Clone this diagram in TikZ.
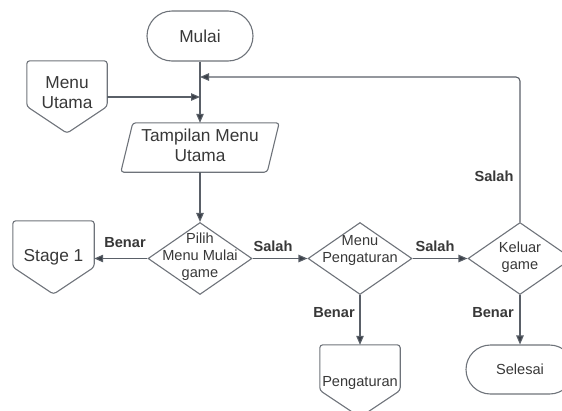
\documentclass[tikz,border=0pt]{standalone}
\usepackage{fontspec}
\setmainfont{Liberation Sans}
\usetikzlibrary{arrows.meta,shapes.geometric,shapes.misc,calc}
\definecolor{edge}{HTML}{6E737A}
\definecolor{wire}{HTML}{5A6068}
\definecolor{tipc}{HTML}{3A3F47}
\definecolor{ink}{HTML}{383838}
\newcommand\bigtxt{\fontsize{17.3}{20}\selectfont}
\newcommand\smalltxt{\fontsize{14.6}{17}\selectfont}
\newcommand\offoutline[1]{%
  \draw[shapeline,rounded corners=3pt] (#1.north west) -- (#1.north east)
    -- ($(#1.north east)!0.63!(#1.south east)$) -- (#1.south)
    -- ($(#1.north west)!0.63!(#1.south west)$) -- cycle;}
\tikzset{
  shapeline/.style={draw=edge,line width=1.1pt},
  terminal/.style={rounded rectangle,shapeline,minimum width=106pt,minimum height=50pt,
    inner sep=0pt,text=ink,font=\bigtxt},
  offbox/.style={minimum width=80pt,minimum height=72pt,inner sep=0pt},
  iobox/.style={minimum width=146pt,minimum height=49pt,inner sep=0pt},
  decision/.style={diamond,shapeline,minimum width=104pt,minimum height=72pt,inner sep=0pt},
  txt/.style={text=ink,align=center,inner sep=0pt},
  conn/.style={draw=wire,line width=1.1pt,-{Triangle[length=9pt,width=7.5pt,fill=tipc]}},
  lbl/.style={text=ink,font=\smalltxt\bfseries,inner sep=0pt},
}
\begin{document}
\begin{tikzpicture}[x=1pt,y=-1pt]
\useasboundingbox (0,0) rectangle (562,410);
\clip (0,0) rectangle (562,410);

% start / end
\node[terminal] (mulai) at (200,36) {Mulai};
\node[terminal,minimum width=108pt,minimum height=49pt,font=\smalltxt] (sel) at (520,369.5) {Selesai};

% off-page connectors
\node[offbox] (mu) at (67,97) {};
\offoutline{mu}
\node[txt,font=\bigtxt] (mutxt) at (67,93) {Menu\\Utama};
\node[offbox,minimum width=81pt,minimum height=73pt] (stage) at (53.5,257.5) {};
\offoutline{stage}
\node[txt,font=\bigtxt] (stagetxt) at (53.5,257) {Stage 1};
\node[offbox] (peng) at (360,381) {};
\offoutline{peng}
\node[txt,font=\smalltxt] (pengtxt) at (360,383) {Pengaturan};

% input/output
\node[iobox] (tamp) at (200,147.5) {};
\draw[shapeline,rounded corners=3pt]
  ([xshift=6pt]tamp.north west) -- ([xshift=6pt]tamp.north east)
  -- ([xshift=-6pt]tamp.south east) -- ([xshift=-6pt]tamp.south west) -- cycle;
\node[txt,font=\bigtxt] (tamptxt) at (200,145.5) {Tampilan Menu\\Utama};

% decisions
\node[decision] (pilih) at (200,258.5) {};
\node[txt,font=\smalltxt] (pilihtxt) at (200,256.5) {Pilih\\Menu Mulai\\game};
\node[decision] (mp) at (360,258.5) {};
\node[txt,font=\smalltxt] (mptxt) at (360,250) {Menu\\Pengaturan};
\node[decision] (kg) at (520,258.5) {};
\node[txt,font=\smalltxt] (kgtxt) at (520,257) {Keluar\\game};

% junctions on the main line
\coordinate (j1) at (200,77);
\coordinate (j2) at (200,97);

% connectors
\draw[conn] (mulai.south) -- (tamp.north);
\draw[conn] (mu.east) -- (j2);
\draw[conn,rounded corners=4pt] (kg.north) |- (j1);
\draw[conn] (tamp.south) -- (pilih.north);
\draw[conn] (pilih.west) -- (pilih.west -| stage.east);
\draw[conn] (pilih.east) -- (mp.west);
\draw[conn] (mp.east) -- (kg.west);
\draw[conn] (mp.south) -- (peng.north);
\draw[conn] (kg.south) -- (sel.north);

% branch labels
\node[lbl] (b1) at (125,243) {Benar};
\node[lbl] (s1) at (273,246) {Salah};
\node[lbl] (s2) at (435,246) {Salah};
\node[lbl] (s3) at (494,176) {Salah};
\node[lbl] (b2) at (334,313) {Benar};
\node[lbl] (b3) at (493,313) {Benar};
\end{tikzpicture}
\end{document}
